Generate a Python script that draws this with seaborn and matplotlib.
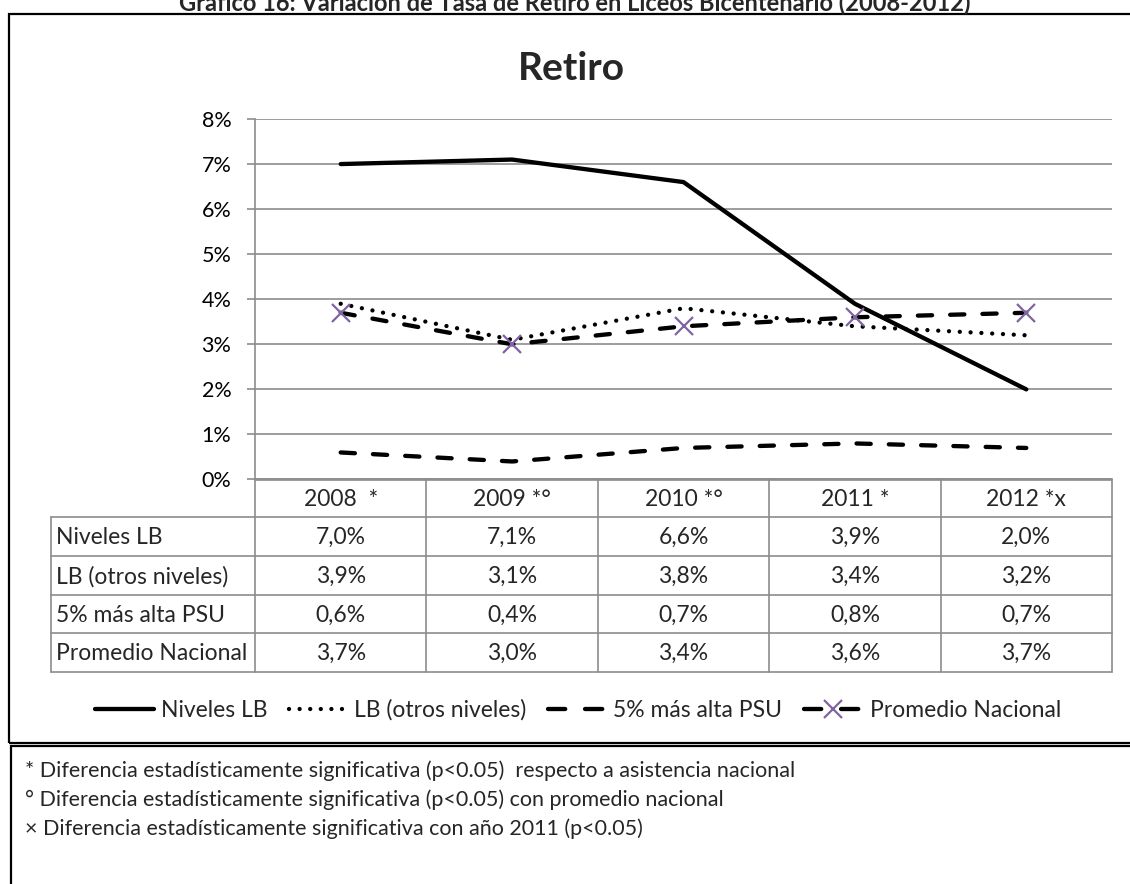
import matplotlib
matplotlib.use("Agg")
import matplotlib.pyplot as plt
import matplotlib.transforms as mtransforms
from matplotlib.lines import Line2D
from matplotlib.patches import Rectangle
import seaborn as sns
import pandas as pd

# ---------------- data ----------------
years = ["2008", "2009", "2010", "2011", "2012"]
year_labels = ["2008  *", "2009 *°", "2010 *°", "2011 *", "2012 *x"]
series_names = ["Niveles LB", "LB (otros niveles)", "5% más alta PSU", "Promedio Nacional"]
niveles_lb = [7.0, 7.1, 6.6, 3.9, 2.0]
lb_otros = [3.9, 3.1, 3.8, 3.4, 3.2]
top5_psu = [0.6, 0.4, 0.7, 0.8, 0.7]
promedio_nacional = [3.7, 3.0, 3.4, 3.6, 3.7]
y_ticks = [0, 1, 2, 3, 4, 5, 6, 7, 8]
chart_title = "Retiro"
fig_title = "Gráfico 16: Variación de Tasa de Retiro en Liceos Bicentenario (2008-2012)"
notes = [
    "* Diferencia estadísticamente significativa (p<0.05)  respecto a asistencia nacional",
    "° Diferencia estadísticamente significativa (p<0.05) con promedio nacional",
    "× Diferencia estadísticamente significativa con año 2011 (p<0.05)",
]

series_values = [niveles_lb, lb_otros, top5_psu, promedio_nacional]

# ---------------- style ----------------
sns.set_theme(style="white")
plt.rcParams["font.family"] = ["Lato", "DejaVu Sans"]

W, H = 1130, 884
fig = plt.figure(figsize=(W / 100, H / 100), dpi=100)
px = mtransforms.Affine2D().scale(1 / W, -1 / H).translate(0, 1) + fig.transFigure

GRID = "#8c8c8c"
PURPLE = "#8064A2"
FS = 16.5

ax_left, ax_right, ax_top, ax_bottom = 255, 1112, 119, 479.5
ax = fig.add_axes([ax_left / W, 1 - ax_bottom / H, (ax_right - ax_left) / W, (ax_bottom - ax_top) / H])

df = pd.DataFrame({
    "pos": list(range(len(years))) * len(series_names),
    "value": sum(series_values, []),
    "serie": [s for s in series_names for _ in years],
})

styles = {
    "Niveles LB": dict(dashes=None, leg_dashes=None, marker=None),
    "LB (otros niveles)": dict(dashes=(0.01, 2.5), leg_dashes=(0.01, 2.45), marker=None),
    "5% más alta PSU": dict(dashes=(3.3, 4.2), leg_dashes=(4.0, 4.6), marker=None),
    "Promedio Nacional": dict(dashes=(3.3, 4.2), leg_dashes=(4.0, 4.6), marker="x"),
}

for name in series_names:
    sub = df[df["serie"] == name]
    st = styles[name]
    kw = {}
    if st["marker"]:
        kw = dict(marker="x", markersize=13, markeredgewidth=1.6,
                  markeredgecolor=PURPLE, markerfacecolor=PURPLE)
    sns.lineplot(data=sub, x="pos", y="value", ax=ax, color="black", lw=3.1,
                 legend=False, **kw)
    line = ax.lines[-1]
    if st["dashes"] is not None:
        line.set_dashes(st["dashes"])
    line.set_dash_capstyle("round")
    line.set_solid_capstyle("round")
    line.set_solid_joinstyle("round")
    line.set_zorder(3)

ax.set_xlim(-0.5, len(years) - 0.5)
ax.set_ylim(0, 8)
ax.set_yticks(y_ticks)
ax.set_yticklabels([f"{t}%" for t in y_ticks])
ax.set_xticks([])
ax.set_xlabel("")
ax.set_ylabel("")
ax.yaxis.grid(True, color=GRID, lw=1.2)
ax.set_axisbelow(True)
for s in ["top", "right"]:
    ax.spines[s].set_visible(False)
for s in ["left", "bottom"]:
    ax.spines[s].set_color(GRID)
    ax.spines[s].set_linewidth(1.2)
ax.tick_params(axis="y", length=6, width=1.2, color=GRID, pad=11, labelsize=15.5,
               labelcolor="black", left=True)

# ---------------- data table under the axis ----------------
row_edges = [479.5, 517, 556, 595, 633, 672]
tbl_left = 51
xdata_ypx = mtransforms.blended_transform_factory(ax.transData, px)
lw_tbl = 1.2
for i, y in enumerate(row_edges):
    x0 = ax_left if i == 0 else tbl_left
    fig.add_artist(Line2D([x0, ax_right], [y, y], transform=px, color=GRID, lw=lw_tbl))
fig.add_artist(Line2D([tbl_left, tbl_left], [row_edges[1], row_edges[-1]], transform=px, color=GRID, lw=lw_tbl))
for k in range(len(years) + 1):
    xd = k - 0.5
    ln = Line2D([xd, xd], [row_edges[0], row_edges[-1]], transform=xdata_ypx, color=GRID, lw=lw_tbl)
    ln.set_clip_on(False)
    ax.add_artist(ln)

for k, lab in enumerate(year_labels):
    ax.text(k, (row_edges[0] + row_edges[1]) / 2 + 1, lab, transform=xdata_ypx,
            ha="center", va="center", fontsize=FS, clip_on=False)
for r, (name, vals) in enumerate(zip(series_names, series_values)):
    yc = (row_edges[r + 1] + row_edges[r + 2]) / 2 + 1
    fig.text(56 / W, 1 - yc / H, name, ha="left", va="center", fontsize=FS)
    for k, v in enumerate(vals):
        ax.text(k, yc, f"{v:.1f}%".replace(".", ","), transform=xdata_ypx,
                ha="center", va="center", fontsize=FS, clip_on=False)

# ---------------- legend ----------------
handles = []
for name in series_names:
    st = styles[name]
    h = Line2D([], [], color="black", lw=3.1,
               marker="x" if st["marker"] else None, markersize=13, markeredgewidth=1.6,
               markeredgecolor=PURPLE)
    if st["leg_dashes"] is not None:
        h.set_dashes(st["leg_dashes"])
    h.set_dash_capstyle("round")
    handles.append(h)
fig.legend(handles, series_names, loc="center", bbox_to_anchor=(578 / W, 1 - 710 / H),
           ncol=4, frameon=False, fontsize=FS, handlelength=2.55, handletextpad=0.3,
           columnspacing=0.95, numpoints=1)

# ---------------- titles, borders, notes ----------------
fig.text(575 / W, 1 - 11 / H, fig_title, ha="center", va="baseline",
         fontsize=17, fontweight="bold")
fig.text(571 / W, 1 - 68 / H, chart_title, ha="center", va="center",
         fontsize=28, fontweight="bold")

fig.add_artist(Rectangle((8.5 / W, 1 - 743 / H), (W + 20) / W, (743 - 13.5) / H,
                         transform=fig.transFigure, fill=False, ec="black", lw=1.6, clip_on=False))
fig.add_artist(Rectangle((10.5 / W, 1 - (H + 20) / H), (W + 20) / W, (H + 20 - 746.5) / H,
                         transform=fig.transFigure, fill=False, ec="black", lw=1.6, clip_on=False))

for i, note in enumerate(notes):
    fig.text(25 / W, 1 - (771 + 29 * i) / H, note, ha="left", va="center", fontsize=15.5)

fig.savefig("out.png", dpi=100)
